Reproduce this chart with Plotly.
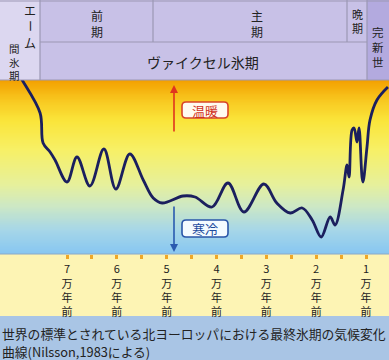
import plotly.graph_objects as go
import numpy as np

# ---- data (thousand years ago, relative temperature index) ----
age_kyr = [80.0, 79.0, 75.4, 74.8, 73.4, 72.4, 70.0, 68.0, 65.4, 62.6, 60.2, 57.4, 54.7, 52.7,
           50.9, 46.7, 44.3, 40.9, 37.7, 34.5, 30.5, 27.9, 25.2, 22.8, 20.8, 19.0, 17.2, 16.2,
           14.6, 13.8, 13.4, 12.8, 12.4, 11.8, 11.4, 10.8, 10.6, 9.8, 9.2, 7.8, 5.6]
temperature = [182, 174, 141, 111, 102, 94, 72, 97, 68, 105, 65, 100, 74, 56,
               51, 58, 57, 47, 71, 42, 70, 51, 41, 46, 34, 17, 37, 29,
               64, 89, 77, 124, 126, 112, 126, 77, 72, 107, 134, 154, 167]

tick_vals = [70, 65, 60, 55, 50, 45, 40, 35, 30, 25, 20, 15, 10]
tick_text = ["7<br>万<br>年<br>前", "", "6<br>万<br>年<br>前", "", "5<br>万<br>年<br>前", "",
             "4<br>万<br>年<br>前", "", "3<br>万<br>年<br>前", "", "2<br>万<br>年<br>前", "",
             "1<br>万<br>年<br>前"]

W, H = 389, 360
FONT = "Noto Sans CJK JP"
px_per_kyr = (366 - 67) / 60.0
x_left = 70 + 67 / px_per_kyr
x_right = 10 - (W - 366) / px_per_kyr
plot_top, plot_bot = 80, 254
Y_MAX = 174


def px(x):
    return x / W


def py(y):
    return 1 - y / H


def rounded_rect(x0, y0, x1, y1, r):
    X = lambda v: f"{px(v):.5f}"
    Y = lambda v: f"{py(v):.5f}"
    return (f"M {X(x0 + r)} {Y(y0)} L {X(x1 - r)} {Y(y0)} Q {X(x1)} {Y(y0)} {X(x1)} {Y(y0 + r)} "
            f"L {X(x1)} {Y(y1 - r)} Q {X(x1)} {Y(y1)} {X(x1 - r)} {Y(y1)} "
            f"L {X(x0 + r)} {Y(y1)} Q {X(x0)} {Y(y1)} {X(x0)} {Y(y1 - r)} "
            f"L {X(x0)} {Y(y0 + r)} Q {X(x0)} {Y(y0)} {X(x0 + r)} {Y(y0)} Z")


fig = go.Figure()

# gradient background
gy = np.linspace(0, Y_MAX, 80)
fig.add_trace(go.Heatmap(
    x=[x_left, x_right], y=gy, z=[[v, v] for v in gy],
    colorscale=[[0.0, "#86c6f2"], [0.14, "#a6d6e8"], [0.28, "#cde8c4"], [0.40, "#e6f09c"],
                [0.60, "#f7f066"], [0.77, "#fae53a"], [0.885, "#f8c820"], [1.0, "#f3a000"]],
    zmin=0, zmax=Y_MAX, showscale=False, hoverinfo="skip", zsmooth="best"))

fig.add_trace(go.Scatter(
    x=age_kyr, y=temperature, mode="lines",
    line=dict(color="#1b1f5e", width=2.8, shape="spline", smoothing=1.0),
    hoverinfo="skip", showlegend=False))

shapes = []
# header
shapes.append(dict(type="rect", xref="paper", yref="paper", x0=0, x1=1, y0=py(plot_top), y1=1,
                   fillcolor="#c8c1e7", line=dict(width=0), layer="below"))
shapes.append(dict(type="rect", xref="paper", yref="paper", x0=0, x1=px(40), y0=py(plot_top), y1=1,
                   fillcolor="#dcd7f0", line=dict(width=0), layer="below"))
shapes.append(dict(type="rect", xref="paper", yref="paper", x0=px(367), x1=1, y0=py(plot_top), y1=1,
                   fillcolor="#b3aadf", line=dict(width=0), layer="below"))
# tick strip
shapes.append(dict(type="rect", xref="paper", yref="paper", x0=0, x1=1, y0=py(316), y1=py(plot_bot),
                   fillcolor="#fdf4b4", line=dict(width=0), layer="below"))
# caption strip
shapes.append(dict(type="rect", xref="paper", yref="paper", x0=0, x1=1, y0=0, y1=py(316),
                   fillcolor="#a9c5e5", line=dict(width=0), layer="below"))
# header lines
lc = "#9b98b4"
for (x0, y0, x1, y1) in [(40, 0, 40, plot_top), (367, 0, 367, plot_top), (153, 0, 153, 42),
                         (347, 0, 347, 42), (40, 42, 367, 42), (0, plot_top, W, plot_top),
                         (0, 1, W, 1)]:
    shapes.append(dict(type="line", xref="paper", yref="paper", x0=px(x0), x1=px(x1),
                       y0=py(y0), y1=py(y1), line=dict(color=lc, width=1.2), layer="above"))
# plot-area separators
for x in (40, 367):
    shapes.append(dict(type="line", xref="paper", yref="paper", x0=px(x), x1=px(x),
                       y0=py(plot_bot), y1=py(plot_top), line=dict(color="#8c8c9c", width=1.2),
                       layer="between"))
shapes.append(dict(type="line", xref="paper", yref="paper", x0=0, x1=1, y0=py(plot_bot), y1=py(plot_bot),
                   line=dict(color="#8aa8c8", width=1), layer="above"))
# label boxes (rounded)
shapes.append(dict(type="path", xref="paper", yref="paper", path=rounded_rect(182, 102, 228, 118, 4),
                   fillcolor="#fffaf0", line=dict(color="#d8442a", width=1.6), layer="above"))
shapes.append(dict(type="path", xref="paper", yref="paper", path=rounded_rect(182, 220, 228, 237, 4),
                   fillcolor="#f4fbff", line=dict(color="#2a56a8", width=1.6), layer="above"))

ann = []


def txt(x, y, s, size=13, color="#222222", angle=0, xanchor="center"):
    ann.append(dict(x=px(x), y=py(y), xref="paper", yref="paper", text=s, showarrow=False,
                    font=dict(family=FONT, size=size, color=color), textangle=angle,
                    xanchor=xanchor, yanchor="middle", borderpad=0))


# エーム間氷期 (vertical writing)
txt(30, 10, "エ", 12)
txt(30, 26, "ー", 12, angle=90)
txt(30, 42, "ム", 12)
txt(14, 62, "間<br>氷<br>期", 10.5)
txt(97, 23, "前<br>期", 12)
txt(257, 23, "主<br>期", 12)
txt(357, 21, "晩<br>期", 11)
txt(378, 47, "完<br>新<br>世", 11.5)
txt(203, 62, "ヴァイクセル氷期", 14)
txt(205, 110, "温暖", 13, color="#d0301e")
txt(205, 228.5, "寒冷", 13, color="#1f4c9e")
txt(1, 333, "世界の標準とされている北ヨーロッパにおける最終氷期の気候変化", 12.8, xanchor="left")
txt(1, 351, "曲線(Nilsson,1983による)", 12.8, xanchor="left")

# arrows
ann.append(dict(x=px(174), y=py(85), xref="paper", yref="paper", ax=0, ay=48, text="",
                showarrow=True, arrowhead=2, arrowsize=1, arrowwidth=1.6, arrowcolor="#e0341e"))
ann.append(dict(x=px(174), y=py(252), xref="paper", yref="paper", ax=0, ay=-47, text="",
                showarrow=True, arrowhead=2, arrowsize=1, arrowwidth=1.6, arrowcolor="#2a5ab0"))

fig.update_layout(
    width=W, height=H, margin=dict(l=0, r=0, t=0, b=0),
    paper_bgcolor="#fdf4b4", plot_bgcolor="#fdf4b4",
    showlegend=False, shapes=shapes, annotations=ann,
    font=dict(family=FONT, color="#222222"),
    xaxis=dict(range=[x_left, x_right], domain=[0, 1], showgrid=False, zeroline=False,
               showline=False, ticks="outside", ticklen=4, tickwidth=3, tickcolor="#f0a828",
               tickvals=tick_vals, ticktext=tick_text, tickangle=0,
               tickfont=dict(family=FONT, size=11, color="#222222"), ticklabelstandoff=1,
               fixedrange=True),
    yaxis=dict(range=[0, Y_MAX], domain=[py(plot_bot), py(plot_top)], showgrid=False,
               zeroline=False, showline=False, showticklabels=False, ticks="", fixedrange=True),
)

fig.write_html("out.html", config={"displayModeBar": False},
               post_script="document.body.style.margin='0';document.body.style.overflow='hidden';")
